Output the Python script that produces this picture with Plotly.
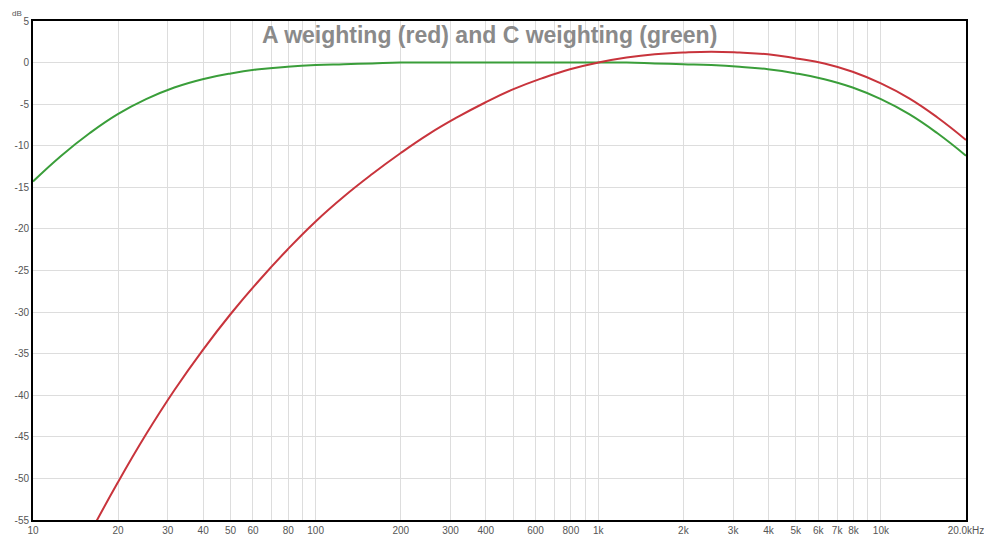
import plotly.graph_objects as go

# Frequencies (Hz) at which curve values were read (1/3-octave points)
freqs = [10, 12.59, 15.85, 19.95, 25.12, 31.62, 39.81, 50.12, 63.1, 79.43, 100, 125.9,
         158.5, 199.5, 251.2, 316.2, 398.1, 501.2, 631.0, 794.3, 1000, 1259, 1585, 1995,
         2512, 3162, 3981, 5012, 6310, 7943, 10000, 12589, 15849, 20000]

# A weighting (red), dB
a_weight = [-70.4, -63.4, -56.7, -50.5, -44.7, -39.4, -34.6, -30.2, -26.2, -22.5,
            -19.1, -16.1, -13.4, -10.9, -8.6, -6.6, -4.8, -3.2, -1.9, -0.8, 0.0,
            0.6, 1.0, 1.2, 1.3, 1.2, 1.0, 0.5, -0.1, -1.1, -2.5, -4.3, -6.6, -9.3]

# C weighting (green), dB
c_weight = [-14.3, -11.2, -8.5, -6.2, -4.4, -3.0, -2.0, -1.3, -0.8, -0.5, -0.3,
            -0.2, -0.1, 0.0, 0.0, 0.0, 0.0, 0.0, 0.0, 0.0, 0.0, 0.0, -0.1, -0.2,
            -0.3, -0.5, -0.8, -1.3, -2.0, -3.0, -4.4, -6.2, -8.5, -11.2]

# X axis grid positions and labels
x_tick_vals = [10, 20, 30, 40, 50, 60, 70, 80, 90, 100, 200, 300, 400, 500, 600, 700,
               800, 900, 1000, 2000, 3000, 4000, 5000, 6000, 7000, 8000, 9000, 10000, 20000]
x_tick_text = ["10", "20", "30", "40", "50", "60", "", "80", "", "100", "200", "300",
               "400", "", "600", "", "800", "", "1k", "2k", "3k", "4k", "5k", "6k",
               "7k", "8k", "", "10k", "20.0kHz"]

# Y axis ticks
y_tick_vals = [5, 0, -5, -10, -15, -20, -25, -30, -35, -40, -45, -50, -55]
y_tick_text = [str(v) for v in y_tick_vals]

title_text = "A weighting (red) and C weighting (green)"

fig = go.Figure()
fig.add_trace(go.Scatter(x=freqs, y=c_weight, mode="lines", name="C",
                         line=dict(color="#3a9e3a", width=2, shape="spline", smoothing=1.3)))
fig.add_trace(go.Scatter(x=freqs, y=a_weight, mode="lines", name="A",
                         line=dict(color="#c8343c", width=2, shape="spline", smoothing=1.3)))

fig.update_layout(
    width=984, height=532,
    margin=dict(l=25, r=26, t=13, b=20, autoexpand=False),
    paper_bgcolor="white", plot_bgcolor="white",
    showlegend=False,
    font=dict(family="Liberation Sans, Arial, sans-serif", size=10, color="#555555"),
)
fig.update_xaxes(
    type="log", range=[1, 4.30103], automargin=False,
    tickvals=x_tick_vals, ticktext=x_tick_text, tickangle=0,
    showgrid=True, gridcolor="#dddddd", gridwidth=1,
    showline=True, linecolor="black", linewidth=2, mirror=True,
    ticks="", zeroline=False,
    tickfont=dict(size=10, color="#555555"),
)
fig.update_yaxes(
    range=[-55, 5], automargin=False,
    tickvals=y_tick_vals, ticktext=y_tick_text,
    showgrid=True, gridcolor="#dddddd", gridwidth=1,
    showline=True, linecolor="black", linewidth=2, mirror=True,
    ticks="", zeroline=False,
    tickfont=dict(size=10, color="#555555"),
)
fig.add_annotation(text="<b>" + title_text + "</b>", xref="paper", yref="paper",
                   x=0.489, y=0.972, xanchor="center", yanchor="middle", showarrow=False,
                   font=dict(family="Liberation Sans, Arial, sans-serif", size=23, color="#8a8a8a"))
fig.add_annotation(text="dB", xref="paper", yref="paper", x=-0.011, y=1.0,
                   xanchor="right", yanchor="bottom", showarrow=False, yshift=2,
                   borderpad=0,
                   font=dict(size=8, color="#555555"))

fig.write_html("out.html")
